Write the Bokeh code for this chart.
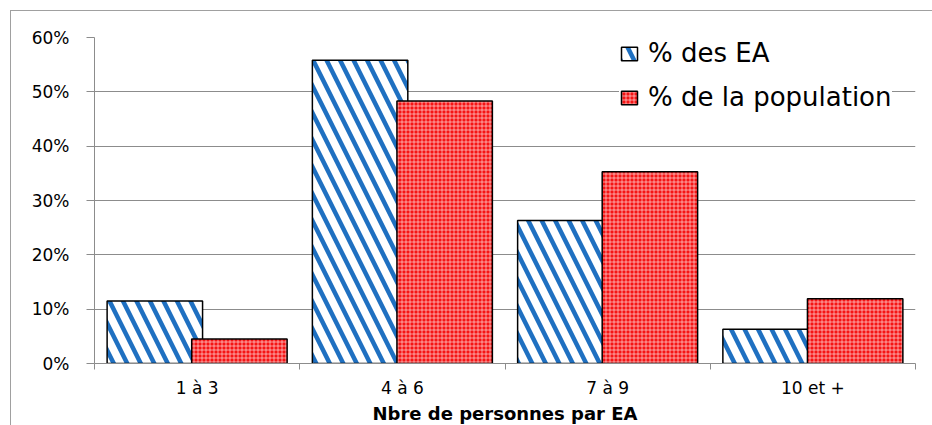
from bokeh.plotting import figure
from bokeh.models import (Range1d, FixedTicker, NumeralTickFormatter, Legend, LegendItem,
                          ColumnDataSource)
from bokeh.transform import dodge
from bokeh.embed import file_html
from bokeh.resources import INLINE

categories = ["1 à 3", "4 à 6", "7 à 9", "10 et +"]
pct_ea = [0.115, 0.558, 0.263, 0.063]
pct_pop = [0.045, 0.483, 0.353, 0.119]
y_ticks = [0.0, 0.1, 0.2, 0.3, 0.4, 0.5, 0.6]
series_names = ["% des EA", "% de la population"]
x_title = "Nbre de personnes par EA"

FONT = "DejaVu Sans"
GRAY = "#8c8c8c"
OFF = 10            # chart-area border offset (margin)
W, H = 932 - OFF, 425 - OFF

n = len(categories)
centers = [i + 0.5 for i in range(n)]
bounds = [float(i) for i in range(n + 1)]

p = figure(width=W, height=H, output_backend="svg", toolbar_location=None,
           x_range=Range1d(0, n), y_range=Range1d(0, 0.6),
           min_border_left=93 - OFF, min_border_right=W - (914 - OFF),
           min_border_top=36 - OFF, min_border_bottom=H - (362 - OFF))
p.margin = (OFF, 0, 0, OFF)
p.styles = {"border-left": "1px solid #a0a0a0", "border-top": "1px solid #a0a0a0"}
p.outline_line_color = None
p.background_fill_color = "white"
p.border_fill_color = "white"

src = ColumnDataSource(dict(xc=centers, cat=categories, ea=pct_ea, pop=pct_pop))

r1 = p.vbar(x=dodge("xc", -0.206), top="ea", width=0.465, source=src,
            fill_color="white", line_color="black", line_width=1.5,
            hatch_pattern="\\", hatch_color="#1f70c1", hatch_weight=4.5, hatch_scale=27)
r2 = p.vbar(x=dodge("xc", 0.206), top="pop", width=0.465, source=src,
            fill_color="#f51414", line_color="black", line_width=1.5,
            hatch_pattern="+", hatch_color="white", hatch_weight=1, hatch_scale=4, hatch_alpha=0.55)

# grid
p.xgrid.visible = False
p.ygrid.grid_line_color = GRAY
p.ygrid.grid_line_width = 1
p.ygrid.ticker = FixedTicker(ticks=y_ticks)

# y axis
ya = p.yaxis[0]
ya.ticker = FixedTicker(ticks=y_ticks)
ya.formatter = NumeralTickFormatter(format="0%")
ya.axis_line_color = GRAY
ya.major_tick_line_color = GRAY
ya.major_tick_out = 8
ya.major_tick_in = 0
ya.minor_tick_line_color = None
ya.major_label_standoff = 17
ya.major_label_text_font = FONT
ya.major_label_text_font_size = "17px"
ya.major_label_text_color = "black"

# x axis
xa = p.xaxis[0]
xa.ticker = FixedTicker(ticks=centers, minor_ticks=bounds)
xa.major_label_overrides = {c: lab for c, lab in zip(centers, categories)}
xa.axis_line_color = GRAY
xa.major_tick_line_color = None
xa.major_tick_out = 0
xa.major_tick_in = 0
xa.minor_tick_line_color = GRAY
xa.minor_tick_out = 6
xa.minor_tick_in = 0
xa.major_label_standoff = 8
xa.major_label_text_font = FONT
xa.major_label_text_font_size = "17px"
xa.major_label_text_color = "black"
xa.axis_label = x_title
xa.axis_label_text_font = FONT
xa.axis_label_text_font_size = "18px"
xa.axis_label_text_font_style = "bold"
xa.axis_label_text_color = "black"
xa.axis_label_standoff = 2

legend = Legend(items=[LegendItem(label=series_names[0], renderers=[r1]),
                       LegendItem(label=series_names[1], renderers=[r2])],
                location=(525, 251), label_text_font=FONT, label_text_font_size="26px",
                label_text_color="black",
                glyph_width=20, glyph_height=17, label_standoff=9, spacing=14, padding=0,
                label_height=20, border_line_color=None, background_fill_color="white",
                background_fill_alpha=1.0, margin=0)
p.add_layout(legend)

open("out.html", "w").write(file_html(p, INLINE))
